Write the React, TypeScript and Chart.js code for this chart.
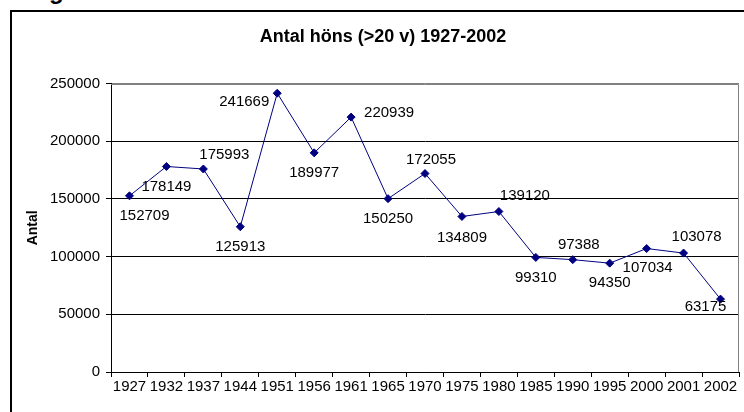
import React, { useEffect, useRef } from 'react';
import { Chart, registerables } from 'chart.js';

Chart.register(...registerables);

const FONT = '"Liberation Sans", Arial, sans-serif';

const chartTitle = 'Antal höns (>20 v) 1927-2002';
const yAxisTitle = 'Antal';
const years = ['1927', '1932', '1937', '1944', '1951', '1956', '1961', '1965', '1970', '1975', '1980', '1985', '1990', '1995', '2000', '2001', '2002'];
const counts = [152709, 178149, 175993, 125913, 241669, 189977, 220939, 150250, 172055, 134809, 139120, 99310, 97388, 94350, 107034, 103078, 63175];
const yMin = 0;
const yMax = 250000;
const yStep = 50000;

// label placement relative to each point (layout only)
const labelOffsets: [number, number][] = [
  [15, 20], [0, 20], [21, -14], [0, 20], [-33, 9], [0, 20], [38, -4], [0, 20], [6, -14],
  [0, 21], [26, -16], [0, 20], [6, -15], [0, 20], [1, 19], [13, -16], [-15, 8],
];

const valueLabels = {
  id: 'valueLabels',
  afterDatasetsDraw(chart: any) {
    const meta = chart.getDatasetMeta(0);
    const ctx = chart.ctx;
    ctx.save();
    ctx.font = `15px ${FONT}`;
    ctx.fillStyle = '#000';
    ctx.textAlign = 'center';
    ctx.textBaseline = 'middle';
    meta.data.forEach((pt: any, i: number) => {
      const [dx, dy] = labelOffsets[i];
      ctx.fillText(String(counts[i]), pt.x + dx, pt.y + dy);
    });
    ctx.restore();
  },
};

const plotBorder = {
  id: 'plotBorder',
  beforeDatasetsDraw(chart: any) {
    const { ctx, chartArea } = chart;
    ctx.save();
    ctx.strokeStyle = '#808080';
    ctx.lineWidth = 1;
    ctx.beginPath();
    ctx.moveTo(chartArea.left, Math.round(chartArea.top) + 0.5);
    ctx.lineTo(Math.round(chartArea.right) - 0.5, Math.round(chartArea.top) + 0.5);
    ctx.lineTo(Math.round(chartArea.right) - 0.5, chartArea.bottom);
    ctx.stroke();
    ctx.restore();
  },
};

export default function App() {
  const canvasRef = useRef<HTMLCanvasElement | null>(null);

  useEffect(() => {
    if (!canvasRef.current) return;
    Chart.defaults.font.family = FONT;
    Chart.defaults.color = '#000';
    const chart = new Chart(canvasRef.current, {
      type: 'line',
      data: {
        labels: years,
        datasets: [
          {
            data: counts,
            borderColor: '#000080',
            backgroundColor: '#000080',
            borderWidth: 1,
            pointStyle: 'rectRot',
            pointRadius: 4,
            pointBorderWidth: 1,
            pointBackgroundColor: '#000080',
            pointBorderColor: '#000080',
            tension: 0,
          },
        ],
      },
      options: {
        animation: false,
        responsive: false,
        devicePixelRatio: 1,
        layout: { padding: { left: 24, right: 2, top: 0, bottom: 0 } },
        plugins: {
          legend: { display: false },
          tooltip: { enabled: false },
          title: {
            display: true,
            text: chartTitle,
            color: '#000',
            font: { family: FONT, size: 18, weight: 'bold' },
            padding: { top: 26, bottom: 36 },
          },
        },
        scales: {
          x: {
            type: 'category',
            offset: true,
            grid: {
              offset: true,
              drawOnChartArea: false,
              drawTicks: true,
              tickLength: 5,
              color: '#000',
            },
            border: { display: true, color: '#000', width: 1 },
            ticks: {
              font: { family: FONT, size: 15 },
              color: '#000',
              padding: 1,
              maxRotation: 0,
              autoSkip: false,
            },
            afterFit: (scale: any) => {
              scale.height = 40;
            },
          },
          y: {
            min: yMin,
            max: yMax,
            grid: {
              color: (c: any) => (c.tick && c.tick.value === yMax ? '#808080' : '#000'),
              tickColor: '#000',
              tickLength: 5,
              drawTicks: true,
            },
            border: { display: true, color: '#000', width: 1 },
            ticks: {
              stepSize: yStep,
              font: { family: FONT, size: 15 },
              color: '#000',
              padding: 6,
              callback: (v: any) => String(v),
            },
            title: {
              display: true,
              text: yAxisTitle,
              color: '#000',
              font: { family: FONT, size: 14, weight: 'bold' },
              padding: { top: 1, bottom: 0 },
            },
            afterFit: (scale: any) => {
              scale.width = 87;
            },
          },
        },
      },
      plugins: [plotBorder, valueLabels],
    });
    return () => chart.destroy();
  }, []);

  return (
    <div
      style={{
        position: 'fixed',
        left: 0,
        top: 0,
        width: 744,
        height: 412,
        overflow: 'hidden',
        background: '#fff',
      }}
    >
      <div
        style={{
          position: 'absolute',
          left: 49,
          top: -21,
          fontFamily: FONT,
          fontWeight: 'bold',
          fontSize: 24,
          lineHeight: '24px',
          color: '#000',
        }}
      >
        g
      </div>
      <div
        style={{
          position: 'absolute',
          left: 10,
          top: 10,
          width: 780,
          height: 440,
          border: '2px solid #000',
          boxSizing: 'border-box',
        }}
      />
      <canvas
        ref={canvasRef}
        width={744}
        height={412}
        style={{ position: 'absolute', left: 0, top: 0, width: 744, height: 412 }}
      />
    </div>
  );
}
